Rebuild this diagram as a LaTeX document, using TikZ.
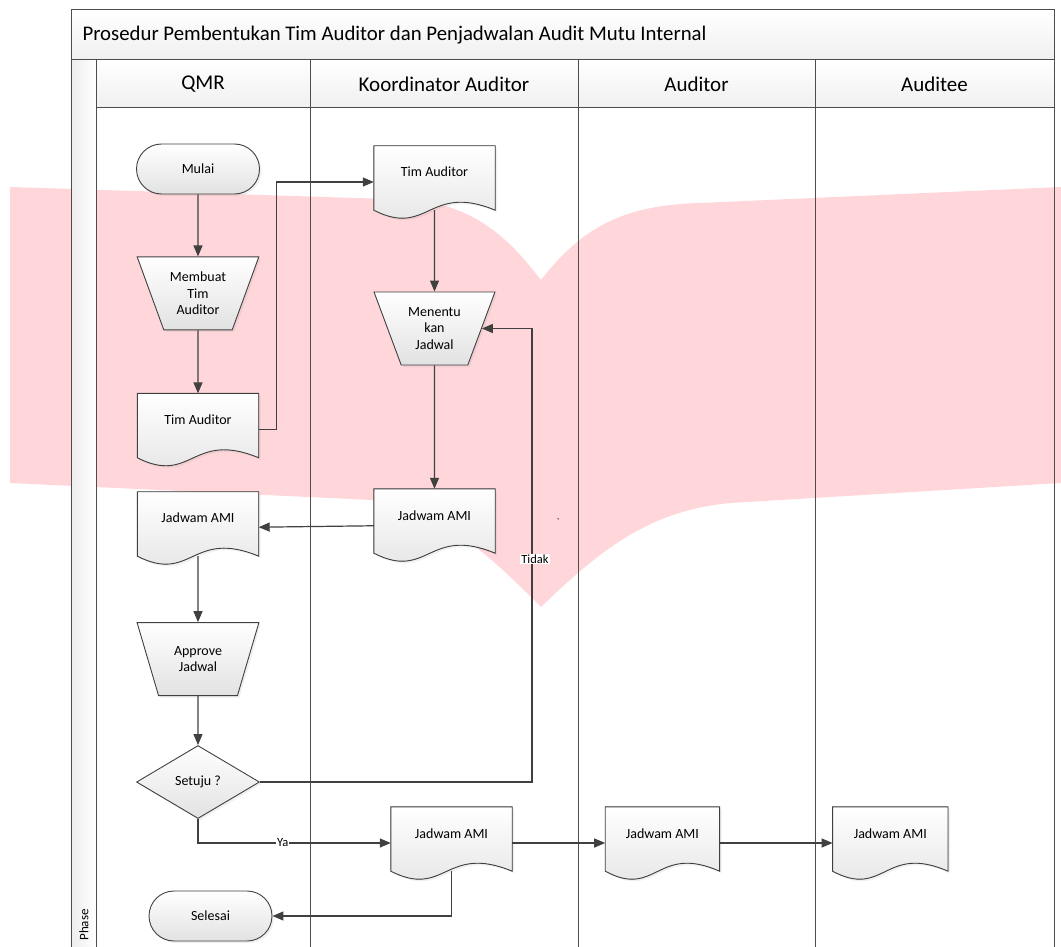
\documentclass[tikz,border=0pt]{standalone}
\usepackage{fontspec}
\setmainfont{Carlito}
\usetikzlibrary{positioning,calc,backgrounds,shapes.geometric,shapes.misc,arrows.meta,shadows}

\definecolor{linegray}{HTML}{404040}
\definecolor{framegray}{HTML}{4D4D4D}
\definecolor{shapebot}{HTML}{E2E2E2}
\definecolor{wmpink}{HTML}{FFD7DA}

\tikzset{
  box/.style={draw=linegray, line width=0.9pt, top color=white, bottom color=shapebot,
    font=\fontsize{14}{16.5}\selectfont, align=center, inner sep=0pt,
    drop shadow={opacity=0.12, shadow xshift=2pt, shadow yshift=-2pt}},
  termbox/.style={box, rounded rectangle, minimum width=123pt, minimum height=50pt},
  manualop/.style={box, trapezium, shape border rotate=180, trapezium left angle=63,
    trapezium right angle=63, trapezium stretches=true, minimum width=122pt, minimum height=73pt},
  docbox/.style={rectangle, font=\fontsize{14}{16.5}\selectfont, inner sep=0pt,
    text height=10pt, text depth=20pt, minimum width=121pt, minimum height=72pt},
  docfill/.style={draw=linegray, line width=0.9pt, top color=white, bottom color=shapebot,
    drop shadow={opacity=0.12, shadow xshift=2pt, shadow yshift=-2pt}},
  decide/.style={box, diamond, minimum width=123pt, minimum height=73pt},
  flow/.style={draw=linegray, line width=1.2pt, -{Triangle[length=11pt,width=9pt]}},
  lbl/.style={fill=white, inner sep=1pt, font=\fontsize{12.5}{14}\selectfont},
  lane/.style={draw=framegray, line width=1pt},
  header/.style={font=\fontsize{21}{23}\selectfont},
}

% outline of a document node, wavy bottom
\newcommand{\docshape}[1]{%
  \filldraw[docfill] (#1.north west) -- (#1.north east) -- ($(#1.south east)+(0,8pt)$)
    .. controls ($(#1.south west)!0.45!(#1.south east)+(0,35.7pt)$)
    and ($(#1.south west)!0.45!(#1.south east)+(0,-19.7pt)$) .. ($(#1.south west)+(0,8pt)$)
    -- cycle;}

\begin{document}
\begin{tikzpicture}[x=1pt, y=-1pt]
\useasboundingbox (0,0) rectangle (1061,947);

% pool, lanes
\draw[lane, top color=white, bottom color=gray!12] (71,10) rectangle (1054,60);
\node[anchor=west, font=\fontsize{20.8}{22}\selectfont] (title) at (79,35)
  {Prosedur Pembentukan Tim Auditor dan Penjadwalan Audit Mutu Internal};
\draw[lane, left color=gray!14, right color=white] (71,60) rectangle (96,960);
\draw[lane, top color=white, bottom color=gray!12] (96,60) rectangle (1054,108);
\foreach \x in {310,578,815,1054}
  \draw[lane] (\x,60) -- (\x,960);
\node[header] (qmr) at (203,84) {QMR};
\node[header] (koord) at (444,84) {Koordinator Auditor};
\node[header] (auditor) at (696.5,84) {Auditor};
\node[header] (auditee) at (934.5,84) {Auditee};
\node[rotate=90, font=\fontsize{13}{14}\selectfont] (phase) at (84,925) {Phase};

% QMR
\node[termbox] (mulai) at (198,169) {Mulai};
\node[manualop, below=62pt of mulai] (membuat) {Membuat\\Tim\\Auditor};
\node[docbox, below=63pt of membuat] (timqmr) {Tim Auditor};
\node[docbox, below=26pt of timqmr] (jadwalqmr) {Jadwam AMI};
\node[manualop, below=58pt of jadwalqmr] (approve) {Approve\\Jadwal};
\node[decide, below=49pt of approve] (setuju) {Setuju ?};
\node[termbox] (selesai) at (210.5,916) {Selesai};

% Koordinator Auditor
\node[docbox] (timkoord) at (434.5,182) {Tim Auditor};
\node[manualop] (menentu) at (434.5,328.5) {Menentu\\kan\\Jadwal};
\node[docbox] (jadwalkoord) at (434.5,525) {Jadwam AMI};
\node[docbox] (jadwalkirim) at (451.5,843) {Jadwam AMI};
\node (tick) at (558,522) {\textasciigrave};

% Auditor, Auditee
\node[docbox, minimum width=114pt, right=93pt of jadwalkirim] (jadwalaud) {Jadwam AMI};
\node[docbox, minimum width=115pt, right=113pt of jadwalaud] (jadwalaudit) {Jadwam AMI};

\begin{scope}[on background layer]
% watermark
\fill[wmpink] (10,187) -- (420,200) .. controls (480,210) and (510,240) .. (541,280)
  .. controls (580,230) and (620,205) .. (700,203) -- (1061,187) -- (1061,483)
  -- (731,503) .. controls (650,510) and (600,550) .. (541,607)
  .. controls (480,545) and (430,505) .. (372,500) -- (10,483) -- cycle;
\foreach \d in {timqmr,jadwalqmr,timkoord,jadwalkoord,jadwalkirim,jadwalaud,jadwalaudit}
  \docshape{\d};
\end{scope}

% connectors
\coordinate (tidakx) at (532,0);
\draw[flow] (mulai) -- (membuat);
\draw[flow] (membuat) -- (timqmr);
\draw[flow] (timqmr.east) -- ++(18pt,0) |- (timkoord.west);
\draw[flow] ([yshift=8pt]timkoord.south) -- (menentu);
\draw[flow] (menentu) -- (jadwalkoord);
\draw[flow] (jadwalkoord) -- (jadwalqmr);
\draw[flow] ([yshift=8pt]jadwalqmr.south) -- (approve);
\draw[flow] (approve) -- (setuju);
\draw[flow] (setuju.east) -| node[lbl, pos=0.746, xshift=3pt] {Tidak} (tidakx |- menentu.east) -- (menentu.east);
\draw[flow] (setuju.south) |- node[lbl, pos=0.72] {Ya} (jadwalkirim.west);
\draw[flow] ([yshift=8pt]jadwalkirim.south) |- (selesai.east);
\draw[flow] (jadwalkirim) -- (jadwalaud);
\draw[flow] (jadwalaud) -- (jadwalaudit);
\end{tikzpicture}
\end{document}
